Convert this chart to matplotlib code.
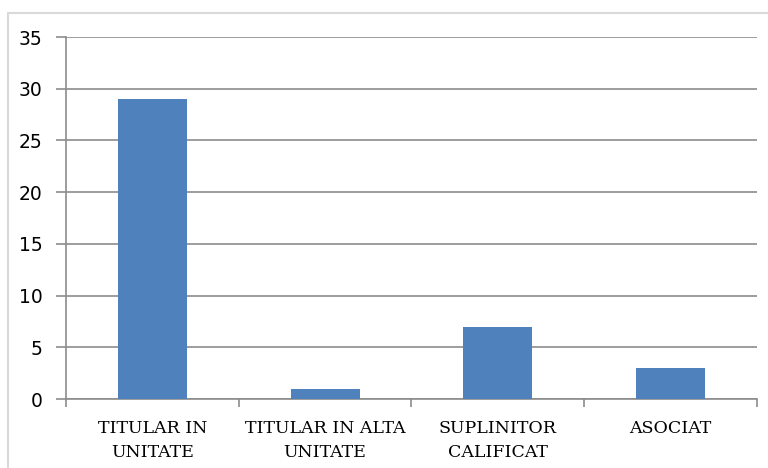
import matplotlib.pyplot as plt
from matplotlib.patches import Rectangle

# data
categories = ["TITULAR IN\nUNITATE", "TITULAR IN ALTA\nUNITATE", "SUPLINITOR\nCALIFICAT", "ASOCIAT"]
values = [29, 1, 7, 3]
y_ticks = [0, 5, 10, 15, 20, 25, 30, 35]

bar_color = "#4F81BD"
grid_color = "#8c8c8c"

fig = plt.figure(figsize=(7.68, 4.68), dpi=100)
ax = fig.add_axes([0.0859, 0.1474, 0.8998, 0.7735])

# outer chart border (light gray, cut off at right/bottom like the source)
fig.patches.append(Rectangle((0.0104, -0.05), 1.05, 1.022, transform=fig.transFigure,
                             fill=False, edgecolor="#d9d9d9", linewidth=1.5))

x = list(range(len(categories)))
ax.bar(x, values, width=0.4, color=bar_color, zorder=3)

ax.set_xlim(-0.5, len(categories) - 0.5)
ax.set_ylim(0, 35)
ax.set_yticks(y_ticks)
ax.yaxis.grid(True, color=grid_color, linewidth=1.2, zorder=0)

# category labels centred, tick marks at category boundaries
ax.set_xticks(x)
ax.set_xticklabels(categories, fontsize=12.5, family="DejaVu Serif", linespacing=1.55)
ax.tick_params(axis="x", which="major", length=0, pad=15)
ax.set_xticks([i - 0.5 for i in range(len(categories) + 1)], minor=True)
ax.tick_params(axis="x", which="minor", length=6, color=grid_color, width=1.2)

ax.tick_params(axis="y", length=7, color=grid_color, width=1.2, pad=10, labelsize=13.5)
for lab in ax.get_yticklabels():
    lab.set_family("DejaVu Sans")

for side in ["top", "right"]:
    ax.spines[side].set_visible(False)
for side in ["left", "bottom"]:
    ax.spines[side].set_color(grid_color)
    ax.spines[side].set_linewidth(1.2)

plt.savefig("out.png", dpi=100)
